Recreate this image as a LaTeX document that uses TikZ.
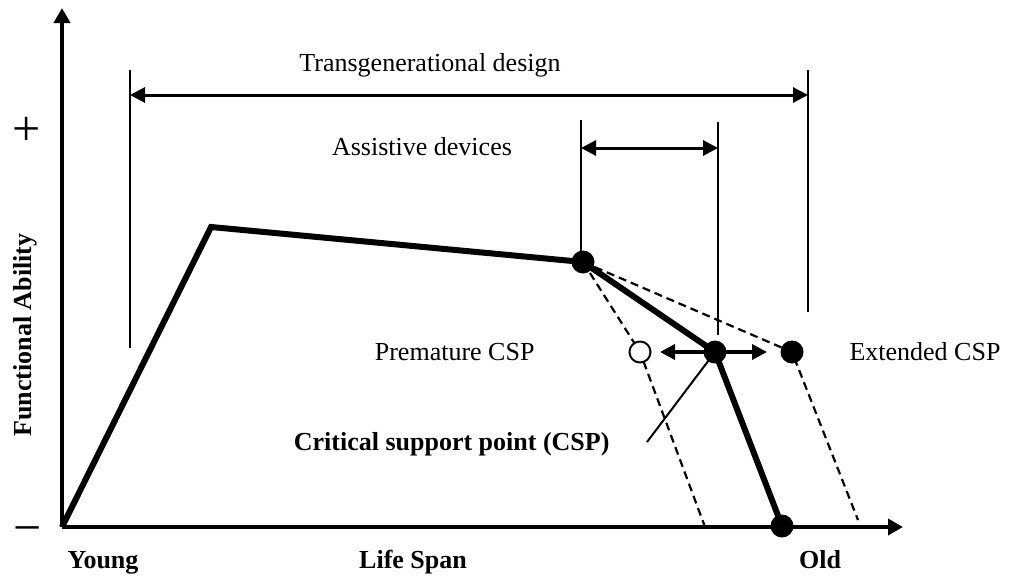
\documentclass[tikz,border=0pt]{standalone}
\usepackage{fontspec}
\setmainfont{Liberation Serif}
\usetikzlibrary{arrows.meta,positioning}

\begin{document}
\begin{tikzpicture}[x=1pt,y=-1pt,
        every node/.style={font=\fontsize{26}{30}\selectfont},
        boldlabel/.style={font=\fontsize{26}{30}\selectfont\bfseries},
        signlabel/.style={font=\fontsize{50}{50}\selectfont},
        axis/.style={line width=4pt,-{Triangle[length=15pt,width=16pt]}},
        ability/.style={line width=6pt,line join=miter},
        guide/.style={line width=2pt},
        span/.style={line width=3pt,{Triangle[length=15pt,width=15pt]}-{Triangle[length=15pt,width=15pt]}},
        csparrow/.style={line width=3.5pt,-{Triangle[length=15pt,width=15pt]}},
        projection/.style={line width=2.2pt,dash pattern=on 8pt off 5pt},
        dot/.style={circle,fill,inner sep=0pt,minimum size=23pt},
        opendot/.style={circle,draw,line width=2pt,fill=white,inner sep=0pt,minimum size=21pt}]
    \useasboundingbox (0,0) rectangle (1012,576);

    \coordinate (origin) at (62,527);
    \coordinate (ytip) at (62,8);
    \coordinate (xtip) at (903,527);
    \coordinate (peak) at (211,227);
    \coordinate (decline) at (583,262);
    \coordinate (csp) at (715,352);
    \coordinate (end) at (782,526);
    \coordinate (early) at (640,352);
    \coordinate (late) at (792,352);
    \coordinate (earlyfoot) at (705,527);
    \coordinate (latefoot) at (858,520);

    \coordinate (tgtop) at (130,70);
    \coordinate (tgbottom) at (130,348);
    \coordinate (tgrtop) at (808,70);
    \coordinate (tgrbottom) at (808,312);
    \coordinate (tgleft) at (130,95);
    \coordinate (tgright) at (808,95);
    \coordinate (adtop) at (581,120);
    \coordinate (adbottom) at (581,252);
    \coordinate (adrtop) at (718,122);
    \coordinate (adrbottom) at (718,335);
    \coordinate (adleft) at (581,148);
    \coordinate (adright) at (718,148);
    \coordinate (earlytip) at (660,352);
    \coordinate (latetip) at (767,352);
    \coordinate (csplink) at (647,442);

    \draw[axis] (origin) -- (ytip);
    \draw[axis] (origin) -- (xtip);

    \draw[guide] (tgtop) -- (tgbottom);
    \draw[guide] (tgrtop) -- (tgrbottom);
    \draw[guide] (adtop) -- (adbottom);
    \draw[guide] (adrtop) -- (adrbottom);
    \draw[span] (tgleft) -- (tgright);
    \draw[span] (adleft) -- (adright);

    \draw[projection] (decline) -- (early) -- (earlyfoot);
    \draw[projection] (decline) -- (late) -- (latefoot);
    \draw[ability] (origin) -- (peak) -- (decline) -- (csp) -- (end);
    \draw[guide] (csplink) -- (csp);
    \draw[csparrow] (csp) -- (earlytip);
    \draw[csparrow] (csp) -- (latetip);

    \node[dot] (declinedot) at (decline) {};
    \node[dot] (cspdot) at (csp) {};
    \node[dot] (enddot) at (end) {};
    \node[opendot] (earlydot) at (early) {};
    \node[dot] (latedot) at (late) {};

    \node (tglabel) at (430,65) {Transgenerational design};
    \node (adlabel) at (422,147) {Assistive devices};
    \node[anchor=east] (premature) at (538,352) {Premature CSP};
    \node[anchor=west] (extended) at (846,352) {Extended CSP};
    \node[boldlabel,anchor=east] (csplabel) at (613,444) {Critical support point (CSP)};
    \node[boldlabel,anchor=base] (young) at (103,568) {Young};
    \node[boldlabel,anchor=base] (lifespan) at (413,568) {Life Span};
    \node[boldlabel,anchor=base] (old) at (820,568) {Old};
    \node[boldlabel,rotate=90] (ability) at (25,335) {Functional Ability};
    \node[signlabel] (plus) at (27,131) {+};
    \node[signlabel] (minus) at (28,536) {−};
\end{tikzpicture}
\end{document}
